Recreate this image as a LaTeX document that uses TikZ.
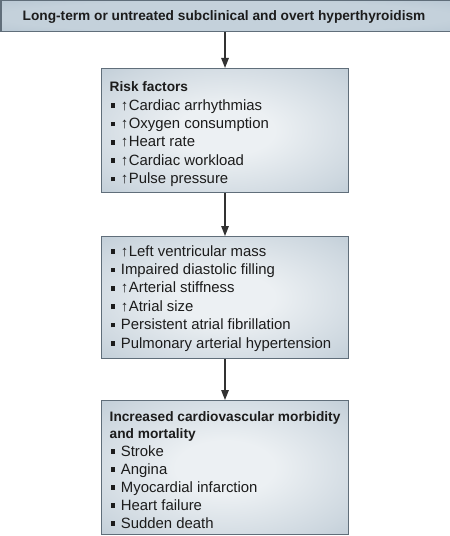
\documentclass[tikz,border=0pt]{standalone}
\usepackage{fontspec}
\setmainfont{Liberation Sans}
\usetikzlibrary{arrows.meta}
\definecolor{boxedge}{RGB}{163,182,197}
\definecolor{boxmid}{RGB}{236,240,243}
\definecolor{boxmid2}{RGB}{205,215,223}
\definecolor{topedge}{RGB}{172,189,203}
\definecolor{topmid}{RGB}{196,209,219}
\definecolor{boxline}{RGB}{96,110,122}
\definecolor{txt}{RGB}{28,28,28}
\definecolor{conncol}{RGB}{50,50,50}
\pgfdeclareradialshading{boxshade}{\pgfpoint{0bp}{0bp}}{color(0bp)=(boxmid); color(10bp)=(boxmid); color(30bp)=(boxmid2); color(52bp)=(boxedge); color(100bp)=(boxedge)}
\pgfdeclareradialshading{topshade}{\pgfpoint{0bp}{0bp}}{color(0bp)=(topmid); color(25bp)=(topmid); color(50bp)=(topedge); color(100bp)=(topedge)}
\newcommand\bul{\raisebox{2.2bp}{\rule{4.6bp}{4.6bp}}\hspace{5.6bp}}
\newcommand\up{\makebox[8bp][l]{\textbf{↑}}}
\begin{document}
\begin{tikzpicture}[x=1bp,y=-1bp,
  box/.style={draw=boxline, line width=1bp, shade, shading=boxshade, rectangle, inner sep=0pt, anchor=north west, minimum width=247bp},
  topbox/.style={draw=boxline, line width=1bp, shade, shading=topshade, rectangle, inner sep=0pt, anchor=north west, minimum width=449bp, minimum height=31bp},
  conn/.style={draw=conncol, line width=1.4bp, -{Triangle[length=10bp,width=7.5bp]}},
  reg/.style={inner sep=0pt, anchor=base west, text=txt, font=\fontsize{14.9bp}{18bp}\selectfont},
  hd/.style={inner sep=0pt, anchor=base west, text=txt, font=\bfseries\fontsize{13.7bp}{17bp}\selectfont}]
\useasboundingbox (0,0) rectangle (450,536);
% boxes
\node[topbox] (top) at (0.5,0.5) {};
\node[box, minimum height=124bp] (b2) at (101,68) {};
\node[box, minimum height=122bp] (b3) at (101,236) {};
\node[box, minimum height=134bp] (b4) at (101,400) {};
% connectors
\draw[conn] (b2.north |- top.south) -- (b2.north);
\draw[conn] (b2.south) -- (b3.north);
\draw[conn] (b3.south) -- (b4.north);
% top text
\node[hd, anchor=base] (toptext) at (224,21) {Long-term or untreated subclinical and overt hyperthyroidism};
% box 2
\node[hd] (b2h) at (109.5,92) {Risk factors};
\node[reg] (b2a) at (110.5,110.3) {\bul\up Cardiac arrhythmias};
\node[reg] (b2b) at (110.5,128.6) {\bul\up Oxygen consumption};
\node[reg] (b2c) at (110.5,146.9) {\bul\up Heart rate};
\node[reg] (b2d) at (110.5,165.2) {\bul\up Cardiac workload};
\node[reg] (b2e) at (110.5,183.5) {\bul\up Pulse pressure};
% box 3
\node[reg] (b3a) at (110.5,256) {\bul\up Left ventricular mass};
\node[reg] (b3b) at (110.5,274.4) {\bul Impaired diastolic filling};
\node[reg] (b3c) at (110.5,292.8) {\bul\up Arterial stiffness};
\node[reg] (b3d) at (110.5,311.2) {\bul\up Atrial size};
\node[reg] (b3e) at (110.5,329.6) {\bul Persistent atrial fibrillation};
\node[reg] (b3f) at (110.5,348) {\bul Pulmonary arterial hypertension};
% box 4
\node[hd] (b4h1) at (109.5,421) {Increased cardiovascular morbidity};
\node[hd] (b4h2) at (109.5,438) {and mortality};
\node[reg] (b4a) at (110.5,456) {\bul Stroke};
\node[reg] (b4b) at (110.5,474) {\bul Angina};
\node[reg] (b4c) at (110.5,492) {\bul Myocardial infarction};
\node[reg] (b4d) at (110.5,510) {\bul Heart failure};
\node[reg] (b4e) at (110.5,528) {\bul Sudden death};
\end{tikzpicture}
\end{document}
